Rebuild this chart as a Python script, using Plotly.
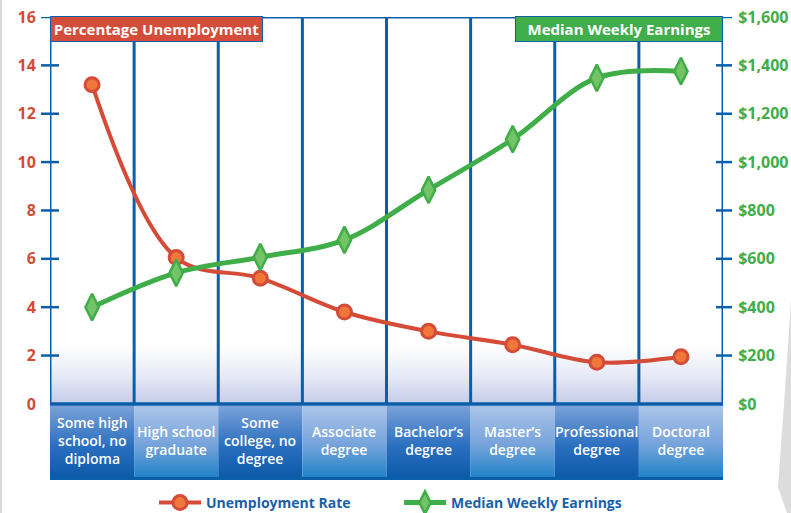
import plotly.graph_objects as go

categories = ["Some high<br>school, no<br>diploma", "High school<br>graduate", "Some<br>college, no<br>degree",
              "Associate<br>degree", "Bachelor\u2019s<br>degree", "Master\u2019s<br>degree",
              "Professional<br>degree", "Doctoral<br>degree"]
unemployment = [13.2, 6.05, 5.2, 3.8, 3.0, 2.45, 1.72, 1.95]
earnings = [400, 542, 607, 678, 885, 1095, 1348, 1376]
left_ticks = [0, 2, 4, 6, 8, 10, 12, 14, 16]
left_labels = ["0", "2", "4", "6", "8", "10", "12", "14", "16"]
right_ticks = [0, 200, 400, 600, 800, 1000, 1200, 1400, 1600]
right_labels = ["$0", "$200", "$400", "$600", "$800", "$1,000", "$1,200", "$1,400", "$1,600"]

BLUE = "#0b5ea8"
RED = "#d44b38"
RED_FILL = "#f0763a"
GREEN = "#3fae49"
GREEN_FILL = "#74c366"
FONT = "Open Sans"

W, H = 791, 513
ML, MR, MT, MB = 50, 68, 17, 33
plot_w = W - ML - MR
plot_h = H - MT - MB
YMIN = -3.147
YMAX = 16
scale = 100.0  # right axis units per left unit
n = len(categories)
xs = list(range(n))

fig = go.Figure()

# category band gradients
for i in xs:
    if i % 2 == 0:
        cs = [[0, "#0a58a6"], [0.45, "#2a6fbf"], [1, "#7ba2d9"]]
    else:
        cs = [[0, "#1a80c8"], [0.5, "#7aa5dc"], [1, "#abc5e9"]]
    fig.add_trace(go.Scatter(
        x=[i - 0.5, i + 0.5, i + 0.5, i - 0.5, i - 0.5],
        y=[YMIN, YMIN, -0.06, -0.06, YMIN],
        mode="none", fill="toself",
        fillgradient=dict(type="vertical", colorscale=cs),
        showlegend=False, hoverinfo="skip"))

# plot-area bottom gradient
fig.add_trace(go.Scatter(
    x=[-0.5, n - 0.5, n - 0.5, -0.5, -0.5],
    y=[0, 0, 2.4, 2.4, 0],
    mode="none", fill="toself",
    fillgradient=dict(type="vertical", colorscale=[[0, "#c3cbe8"], [0.45, "#e4e8f5"], [1, "#ffffff"]]),
    showlegend=False, hoverinfo="skip"))

# interior column lines
gx, gy = [], []
for i in range(1, n):
    gx += [i - 0.5, i - 0.5, None]
    gy += [0, 16, None]
fig.add_trace(go.Scatter(x=gx, y=gy, mode="lines", line=dict(color=BLUE, width=3),
                         showlegend=False, hoverinfo="skip"))

fig.add_trace(go.Scatter(
    x=xs, y=unemployment, name="Unemployment Rate", mode="lines+markers",
    line=dict(color=RED, width=4, shape="spline", smoothing=1.0),
    marker=dict(symbol="circle", size=14, color=RED_FILL, line=dict(color=RED, width=3)),
    yaxis="y"))
fig.add_trace(go.Scatter(
    x=xs, y=earnings, name="Median Weekly Earnings", mode="lines+markers",
    line=dict(color=GREEN, width=5, shape="spline", smoothing=1.0),
    marker=dict(symbol="diamond-tall", size=19, color=GREEN_FILL, line=dict(color=GREEN, width=2.5)),
    yaxis="y2"))

shapes = []
# frame lines
shapes.append(dict(type="line", xref="x", yref="y", x0=-0.5, x1=-0.5, y0=0, y1=16, line=dict(color=BLUE, width=3)))
shapes.append(dict(type="line", xref="x", yref="y", x0=n - 0.5, x1=n - 0.5, y0=0, y1=16, line=dict(color=BLUE, width=3)))
shapes.append(dict(type="line", xref="x", yref="y", x0=-0.5, x1=n - 0.5, y0=16, y1=16, line=dict(color=BLUE, width=3)))
shapes.append(dict(type="line", xref="x", yref="y", x0=-0.5, x1=n - 0.5, y0=0, y1=0, line=dict(color=BLUE, width=3.5)))
shapes.append(dict(type="line", xref="x", yref="y", x0=-0.52, x1=n - 0.49, y0=YMIN + 0.06, y1=YMIN + 0.06, line=dict(color=BLUE, width=3)))
# crossing tick marks
for v in left_ticks[1:]:
    shapes.append(dict(type="line", xref="paper", yref="y", x0=-9 / plot_w, x1=9 / plot_w, y0=v, y1=v,
                       line=dict(color=BLUE, width=2.5)))
for v in right_ticks[1:]:
    shapes.append(dict(type="line", xref="paper", yref="y2", x0=1 - 7 / plot_w, x1=1 + 9 / plot_w, y0=v, y1=v,
                       line=dict(color=BLUE, width=2.5)))
# page decoration at right edge
shapes.append(dict(type="path", xref="paper", yref="paper",
                   path="M %f %f L %f %f L %f %f L %f %f L %f %f Z" % (
                       (791 - ML) / plot_w, (H - MB - 300) / plot_h,
                       (785 - ML) / plot_w, (H - MB - 390) / plot_h,
                       (778 - ML) / plot_w, (H - MB - 487) / plot_h,
                       (787 - ML) / plot_w, (H - MB - 513) / plot_h,
                       (791 - ML) / plot_w, (H - MB - 513) / plot_h),
                   fillcolor="#dcdcdc", line=dict(width=0), layer="below"))
# faint page edge at left
shapes.append(dict(type="line", xref="paper", yref="paper",
                   x0=(1 - ML) / plot_w, x1=(1 - ML) / plot_w, y0=-MB / plot_h, y1=1 + MT / plot_h,
                   line=dict(color="#d6d9df", width=2), layer="below"))

annotations = []
annotations.append(dict(xref="paper", yref="paper", x=0, y=1, xanchor="left", yanchor="top",
                        text="<b>Percentage Unemployment</b>", showarrow=False,
                        font=dict(family=FONT, size=15, color="white"),
                        bgcolor="#d44c3a", bordercolor=BLUE, borderwidth=1, borderpad=2,
                        width=207, height=20, align="center", yshift=1))
annotations.append(dict(xref="paper", yref="paper", x=1, y=1, xanchor="right", yanchor="top",
                        text="<b>Median Weekly Earnings</b>", showarrow=False,
                        font=dict(family=FONT, size=15, color="white"),
                        bgcolor="#40ae4a", bordercolor=BLUE, borderwidth=1, borderpad=2,
                        width=202, height=20, align="center", yshift=1))
for i, c in zip(xs, categories):
    annotations.append(dict(xref="x", yref="y", x=i, y=-1.52, text=c, showarrow=False,
                            font=dict(family=FONT, size=14, color="white", weight=600),
                            align="center", yanchor="middle"))

fig.update_layout(
    width=W, height=H,
    margin=dict(l=ML, r=MR, t=MT, b=MB, pad=0, autoexpand=False),
    paper_bgcolor="white", plot_bgcolor="white",
    xaxis=dict(range=[-0.5, n - 0.5], showgrid=False, zeroline=False, showticklabels=False,
               showline=False, fixedrange=True, automargin=False),
    yaxis=dict(range=[YMIN, YMAX], tickvals=left_ticks, ticktext=left_labels, automargin=False,
               showgrid=False, zeroline=False, showline=False,
               ticks="outside", ticklen=10, tickcolor="rgba(0,0,0,0)",
               tickfont=dict(family=FONT, size=16, color=RED, weight="bold")),
    yaxis2=dict(range=[YMIN * scale, YMAX * scale], tickvals=right_ticks, ticktext=right_labels,
                overlaying="y", side="right", showgrid=False, zeroline=False, showline=False,
                automargin=False,
                ticks="outside", ticklen=11, tickcolor="rgba(0,0,0,0)",
                tickfont=dict(family=FONT, size=16, color=GREEN, weight="bold")),
    legend=dict(orientation="h", x=(154 - ML) / plot_w, xanchor="left",
                y=-23 / plot_h, yanchor="middle", itemwidth=42, entrywidth=188,
                font=dict(family=FONT, size=14, color="#1b5fa8", weight="bold"),
                bgcolor="rgba(0,0,0,0)"),
    shapes=shapes, annotations=annotations,
    showlegend=True,
)

fig.write_html("out.html", config={"displayModeBar": False},
               post_script="document.body.style.margin='0';document.body.style.overflow='hidden';")
